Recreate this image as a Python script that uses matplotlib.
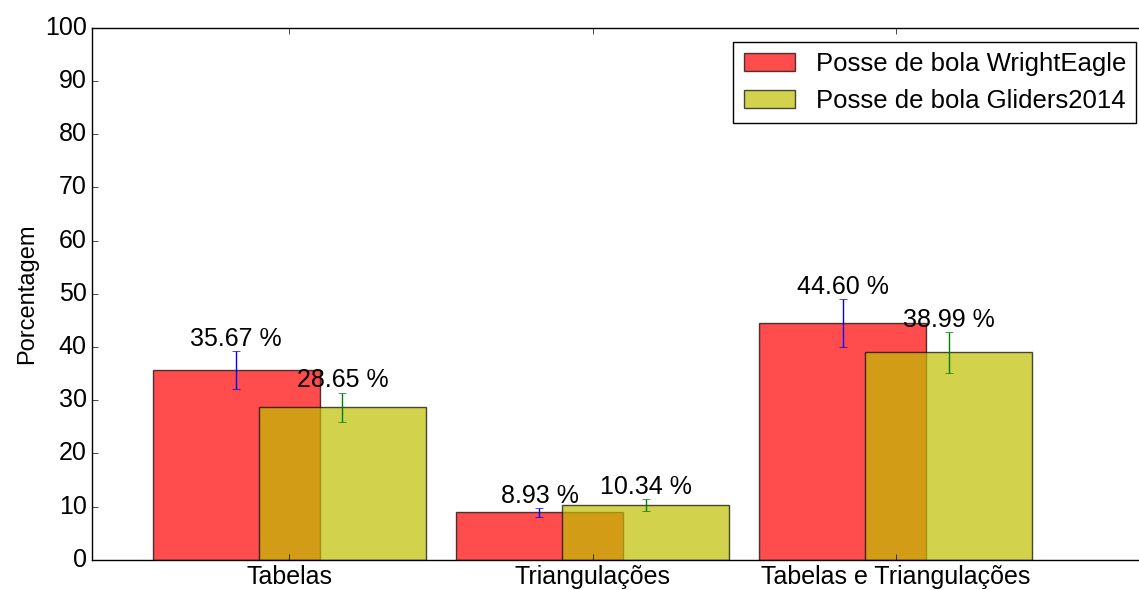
import numpy as np
import matplotlib
matplotlib.use('Agg')
import matplotlib.pyplot as plt

plt.style.use('classic')
plt.rcParams['font.family'] = ['Liberation Sans', 'DejaVu Sans']

categories = ['Tabelas', 'Triangulações', 'Tabelas e Triangulações']
wright = [35.67, 8.93, 44.60]
wright_err = [3.6, 0.9, 4.5]
gliders = [28.65, 10.34, 38.99]
gliders_err = [2.8, 1.1, 3.9]

WIDTH = 0.55
OFFSET = 0.35

ind = np.arange(len(categories))

fig = plt.figure(figsize=(11.39, 5.90), dpi=100, facecolor='white')
# the right part of the axes is cut off at the image edge, as in the original
ax = fig.add_axes([0.081, 0.051, 0.929, 0.902])

r1 = ax.bar(ind - OFFSET / 2, wright, WIDTH, color='r', alpha=0.7, align='center',
            yerr=wright_err, ecolor='b', capsize=3, label='Posse de bola WrightEagle')
r2 = ax.bar(ind + OFFSET / 2, gliders, WIDTH, color='y', alpha=0.7, align='center',
            yerr=gliders_err, ecolor='g', capsize=3, label='Posse de bola Gliders2014')

for rects in (r1, r2):
    for rect in rects:
        h = rect.get_height()
        ax.text(rect.get_x() + rect.get_width() / 2., 1.1 * h, '%.2f %%' % h,
                ha='center', va='bottom', fontsize=18)

ax.set_ylim(0, 100)
ax.set_xlim(-0.65, 2.84)
ax.set_xticks(ind)
ax.set_xticklabels(categories)
ax.set_yticks(np.arange(0, 101, 10))
ax.tick_params(labelsize=18)
ax.set_ylabel('Porcentagem', fontsize=17)
ax.legend(loc='upper right', fontsize=18.5, borderaxespad=0.55)

fig.savefig('out.png', dpi=100, facecolor='white')
